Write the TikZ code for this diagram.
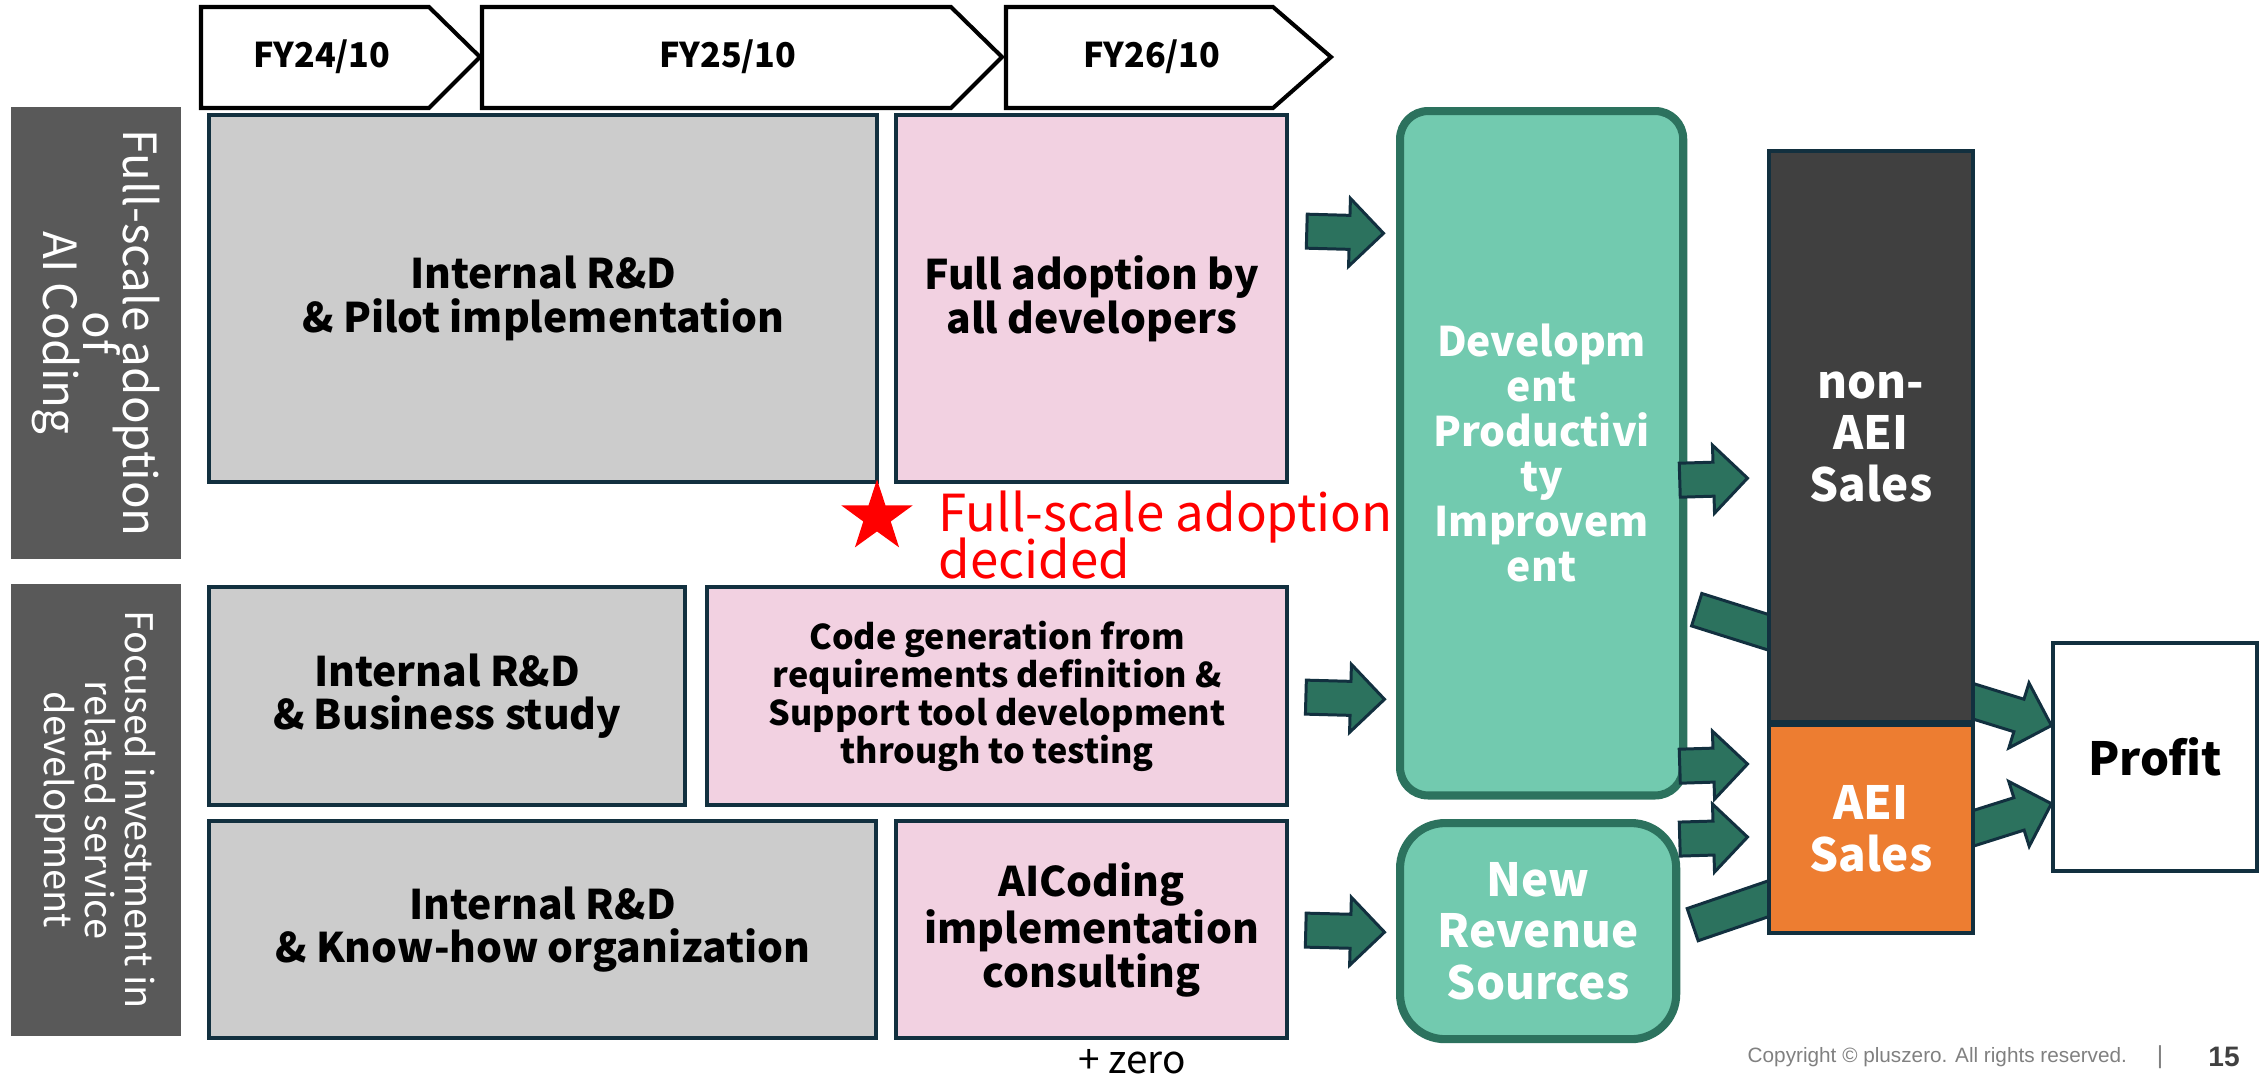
\documentclass[tikz,border=0pt]{standalone}
\usepackage{fontspec}
\setmainfont{Noto Sans CJK JP}
\newfontfamily\footfont{Liberation Sans}
\usetikzlibrary{shapes.arrows,shapes.geometric,calc}

\definecolor{navy}{HTML}{12303F}
\definecolor{sidegray}{HTML}{595959}
\definecolor{rdgray}{HTML}{CCCCCC}
\definecolor{rdpink}{HTML}{F2D1E1}
\definecolor{mint}{HTML}{72CAAF}
\definecolor{pine}{HTML}{2C725E}
\definecolor{charcoal}{HTML}{404040}
\definecolor{aeiorange}{HTML}{ED7D31}

\pgfdeclarelayer{back}
\pgfsetlayers{back,main}
\newcommand\tightlines{\lineskiplimit-20pt\relax}

\tikzset{PX/.style={x=0.01cm, y=-0.01cm},
  chev/.style={draw=black, fill=white, line width=1.15pt, line join=miter},
  chevtext/.style={font=\bfseries\fontsize{9.7}{11}\selectfont},
  sidebar/.style={fill=sidegray, text=white, rotate=-90, minimum width=4.52cm, minimum height=1.7cm, inner sep=0pt, align=center, font=\fontsize{13}{11.3}\selectfont\tightlines},
  task/.style={draw=navy, line width=1.15pt, anchor=north west, inner sep=2pt, align=center, font=\bfseries\fontsize{11.6}{12.4}\selectfont},
  rd/.style={task, fill=rdgray},
  goal/.style={task, fill=rdpink},
  effect/.style={draw=pine, fill=mint, line width=2.3pt, anchor=north west, text=white, align=center, font=\bfseries\fontsize{11.6}{12.8}\selectfont},
  sales/.style={draw=navy, line width=1.15pt, anchor=north west, minimum width=2.04cm, align=center, font=\bfseries\fontsize{13}{14.7}\selectfont},
  barrow/.style={single arrow, draw=navy, fill=pine, line width=0.85pt, minimum width=0.65cm, single arrow head extend=0.17cm, inner xsep=0pt, inner ysep=0.155cm, anchor=tail}}

\newcommand\blockarr[3]{\path let \p1=#2, \p2=#3, \n1={atan2(\y2-\y1,\x2-\x1)}, \n2={veclen(\x2-\x1,\y2-\y1)} in node[barrow, minimum height=\n2, rotate=\n1] (#1) at (\p1) {};}

\begin{document}
\begin{tikzpicture}[PX]
\useasboundingbox (0,0) rectangle (2260,1075);

\draw[chev] (201,7)--(429,7)--(480,57)--(429,108)--(201,108)--cycle;
\draw[chev] (482,7)--(951,7)--(1002,57)--(951,108)--(482,108)--cycle;
\draw[chev] (1006,7)--(1273,7)--(1331,57)--(1273,108)--(1006,108)--cycle;
\node[chevtext] (fy24) at (322,57) {FY24/10};
\node[chevtext] (fy25) at (728,57) {FY25/10};
\node[chevtext] (fy26) at (1152,57) {FY26/10};

\node[sidebar] (side1) at (96,333) {Full-scale adoption\\of\\AI Coding};
\node[sidebar, font=\fontsize{10.8}{11.5}\selectfont\tightlines] (side2) at (96,810) {Focused investment in\\related service\\development};

\node[rd, minimum width=6.68cm, minimum height=3.67cm] (rd1) at (207,113) {Internal R\&D\\\& Pilot implementation};
\node[goal, minimum width=3.91cm, minimum height=3.67cm] (full) at (894,113) {Full adoption by\\all developers};
\node[rd, minimum width=4.76cm, minimum height=2.18cm] (rd2) at (207,585) {Internal R\&D\\\& Business study};
\node[goal, minimum width=5.80cm, minimum height=2.18cm, font=\bfseries\fontsize{9.7}{10.8}\selectfont] (codegen) at (705,585) {Code generation from\\requirements definition \&\\Support tool development\\through to testing};
\node[rd, minimum width=6.67cm, minimum height=2.17cm] (rd3) at (207,819) {Internal R\&D\\\& Know-how organization};
\node[goal, minimum width=3.91cm, minimum height=2.17cm] (aicoding) at (894,819) {AICoding\\implementation\\consulting};

\node[star, star points=5, star point ratio=2.6, fill=red, minimum size=0.75cm, inner sep=0pt] (decmark) at (877,517) {};
\node[anchor=west, inner sep=0pt, text=red, align=left, font=\fontsize{14.5}{13.5}\selectfont\tightlines] (decided) at (938,535) {Full-scale adoption\\decided};
\node[font=\fontsize{11}{12}\selectfont] (pluszero) at (1132,1062) {+ zero};

\node[effect, rounded corners=0.28cm, minimum width=2.83cm, minimum height=6.84cm] (dev) at (1396,107) {Developm\\ent\\Productivi\\ty\\Improvem\\ent};
\node[effect, rounded corners=0.45cm, minimum width=2.76cm, minimum height=2.16cm, font=\bfseries\fontsize{13}{14.7}\selectfont] (newrev) at (1396,819) {New\\Revenue\\Sources};

\node[sales, fill=charcoal, text=white, minimum height=5.71cm] (nonaei) at (1767,149) {non-\\AEI\\Sales};
\node[sales, fill=aeiorange, text=white, minimum height=2.08cm] (aei) at (1767,723) {AEI\\Sales};
\node[sales, fill=white, minimum height=2.28cm] (profit) at (2051,641) {Profit};

\blockarr{a1}{($(full.east)+(16,-67.5)$)}{($(dev.west)+(-14,-220)$)}
\blockarr{a2}{($(codegen.east)+(15,1)$)}{($(dev.west)+(-13,246)$)}
\blockarr{a3}{($(aicoding.east)+(15,0.5)$)}{($(newrev.west)+(-13,1)$)}
\blockarr{a4}{($(dev.east)+(-9,27)$)}{($(nonaei.west)+(-21,41.5)$)}
\blockarr{a5}{($(dev.east)+(-9,313)$)}{($(aei.west)+(-21,-65)$)}
\blockarr{a6}{($(newrev.east)+(-2,-92)$)}{($(aei.west)+(-21,8)$)}
\begin{pgfonlayer}{back}
\blockarr{a7}{($(dev.east)+(8,156)$)}{($(nonaei.west)+(63,215)$)}
\blockarr{a8}{($(newrev.east)+(11,-6)$)}{($(aei.west)+(59,50)$)}
\blockarr{a9}{($(nonaei.east)+(-41,252.5)$)}{($(profit.west)+(-1,-32)$)}
\blockarr{a10}{($(aei.east)+(-36,10)$)}{($(profit.west)+(-1,47)$)}
\end{pgfonlayer}

\node[anchor=west, inner sep=0pt, text=gray, font=\footfont\fontsize{5.9}{7}\selectfont] (copy) at (1747,1057) {Copyright © pluszero. All rights reserved.};
\node[text=gray, font=\footfont\fontsize{7}{8}\selectfont] (bar) at (2160,1057) {|};
\node[text=charcoal, font=\footfont\bfseries\fontsize{8}{9}\selectfont] (page) at (2224,1057) {15};
\end{tikzpicture}
\end{document}
